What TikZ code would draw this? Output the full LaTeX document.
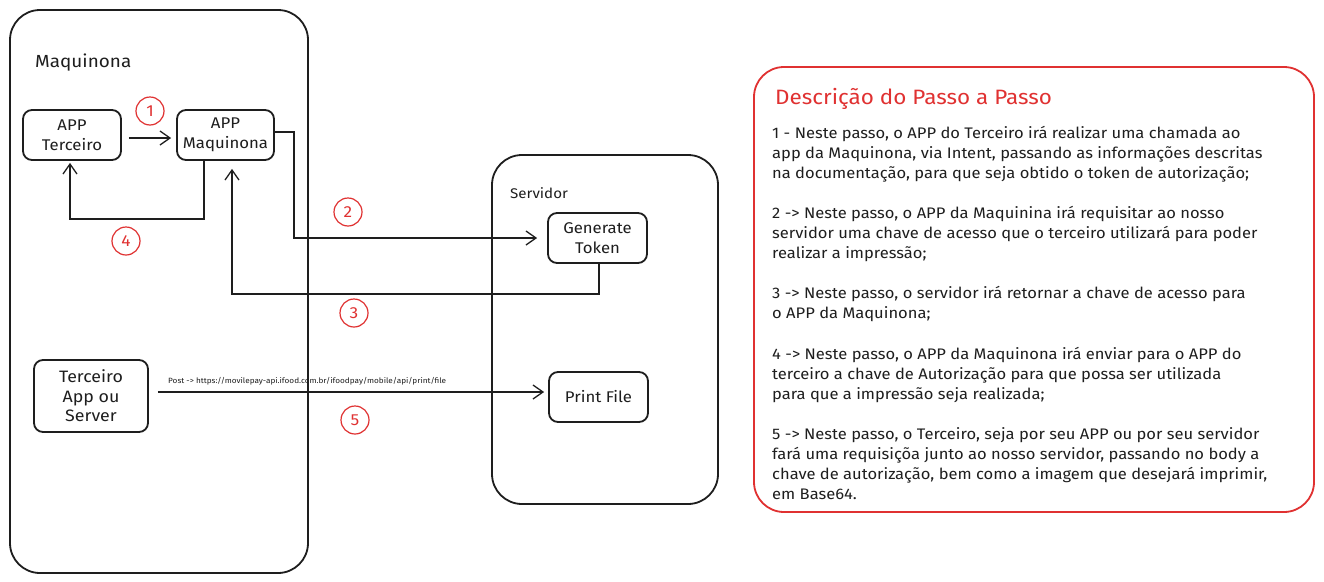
\documentclass[tikz,border=0pt]{standalone}
\usepackage{fontspec}
\setmainfont{Fira Sans}[FakeStretch=1.08]
\usetikzlibrary{arrows.meta,calc}
\definecolor{ink}{HTML}{1E1E1E}
\definecolor{exred}{HTML}{E03131}
\tikzset{
  container/.style={draw=ink, line width=1.8pt, rounded corners=30pt, inner sep=0pt},
  appbox/.style={draw=ink, line width=1.8pt, rounded corners=9pt, align=center, inner sep=0pt,
     font=\fontsize{15.5}{20}\selectfont, text=ink},
  arr/.style={draw=ink, line width=1.3pt, -{Straight Barb[length=10pt,width=14pt,line width=1.3pt]}},
  stepnum/.style={circle, draw=exred, line width=1.2pt, minimum size=28pt, inner sep=0pt,
     text=exred, font=\fontsize{16}{16}\selectfont},
  lbl/.style={anchor=west, inner sep=0pt, text=ink}
}
\begin{document}
\begin{tikzpicture}[x=1pt,y=-1pt]
\useasboundingbox[fill=white] (0,0) rectangle (1324,581);

% containers
\node[container, minimum width=298pt, minimum height=563pt] (maq) at (159,291.5) {};
\node[container, minimum width=226pt, minimum height=349pt] (srv) at (605,329.5) {};
\node[container, draw=exred, minimum width=560pt, minimum height=445pt] (panel) at (1034,289.5) {};

\node[lbl, font=\fontsize{17.5}{17.5}\selectfont] (maqlbl) at (35,63) {Maquinona};
\node[lbl, font=\fontsize{14}{14}\selectfont] (srvlbl) at (510,193) {Servidor};

% boxes
\node[appbox, minimum width=98pt, minimum height=50pt] (at) at (72,135) {APP\\Terceiro};
\node[appbox, minimum width=97pt, minimum height=50pt] (am) at (225.5,135) {APP\\Maquinona};
\node[appbox, minimum width=99pt, minimum height=50pt] (gt) at (597.5,238) {Generate\\Token};
\node[appbox, minimum width=99pt, minimum height=50pt] (pf) at (598.5,397) {Print File};
\node[appbox, minimum width=114pt, minimum height=72pt, font=\fontsize{16.5}{19.5}\selectfont] (ts) at (91,396) {Terceiro\\App ou\\Server};

% arrows
\draw[arr, shorten <=7pt, shorten >=5pt] ([yshift=-3pt]at.east) -- ([yshift=-3pt]am.west);
\draw[arr, shorten >=2pt] ([xshift=-21.5pt]am.south) -- ++(0,58) -| ([xshift=-2pt]at.south);
\draw[arr, shorten >=10pt] ([yshift=3pt]am.east) -- ++(19,0) |- (gt.west);
\draw[arr, shorten >=8pt] ([xshift=1.5pt]gt.south) -- ++(0,30) -| ([xshift=6.5pt]am.south);
\draw[arr, shorten <=9pt, shorten >=4pt] ([yshift=4pt]ts.east) -- ([yshift=5pt]pf.west);
\node[lbl, font=\fontsize{7.6}{7.6}\selectfont] (url) at (168,381) {Post -> https://movilepay-api.ifood.com.br/ifoodpay/mobile/api/print/file};

% step numbers
\node[stepnum] (c1) at (150,111) {1};
\node[stepnum] (c4) at (126,241) {4};
\node[stepnum] (c2) at (348,212) {2};
\node[stepnum] (c3) at (354,313) {3};
\node[stepnum] (c5) at (355,420) {5};

% description panel
\node[lbl, text=exred, font=\fontsize{20.8}{20.8}\selectfont] (title) at (775,99) {Descrição do Passo a Passo};
\node[anchor=north west, inner sep=0pt, align=left, text=ink, font=\fontsize{15.3}{20.05}\selectfont] (desc) at (772,126) {%
1 - Neste passo, o APP do Terceiro irá realizar uma chamada ao\\
app da Maquinona, via Intent, passando as informações descritas\\
na documentação, para que seja obtido o token de autorização;\\[20.05pt]
2 -> Neste passo, o APP da Maquinina irá requisitar ao nosso\\
servidor uma chave de acesso que o terceiro utilizará para poder\\
realizar a impressão;\\[20.05pt]
3 -> Neste passo, o servidor irá retornar a chave de acesso para\\
o APP da Maquinona;\\[20.05pt]
4 -> Neste passo, o APP da Maquinona irá enviar para o APP do\\
terceiro a chave de Autorização para que possa ser utilizada\\
para que a impressão seja realizada;\\[20.05pt]
5 -> Neste passo, o Terceiro, seja por seu APP ou por seu servidor\\
fará uma requisiçõa junto ao nosso servidor, passando no body a\\
chave de autorização, bem como a imagem que desejará imprimir,\\
em Base64.};
\end{tikzpicture}
\end{document}
